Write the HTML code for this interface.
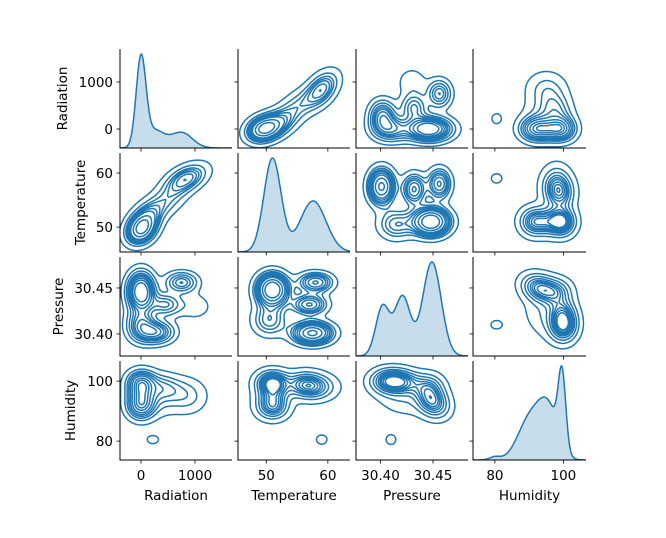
<!DOCTYPE html>
<html><head><meta charset="utf-8"><title>Pairplot KDE</title>
<style>
html,body{margin:0;padding:0;background:#fff;}
svg{display:block;font-family:"DejaVu Sans","Liberation Sans",sans-serif;}
</style></head>
<body>
<svg id="chart" width="666" height="538" viewBox="0 0 666 538" xmlns="http://www.w3.org/2000/svg"></svg>
<script>
// ---- data ----
const varNames = ["Radiation","Temperature","Pressure","Humidity"];
const varTicks = [[0,1000],[50,60],[30.40,30.45],[80,100]];
const varTickLabels = [["0","1000"],["50","60"],["30.40","30.45"],["80","100"]];
// smoothing bandwidth per variable (joint panels)
const bandwidth = [140,1.0,0.005,2.0];
// marginal mixtures: [mean, sd, weight]
const radMarg = [[0,90,0.56],[250,180,0.22],[750,200,0.22]];
const tempMarg = [[51,1.4,0.55],[57.6,2.1,0.45]];
const presMarg = [[30.402,0.0065,0.2],[30.421,0.0075,0.28],[30.449,0.0088,0.52]];
const humMarg = [[90.5,3.6,0.4],[95.8,2.8,0.32],[99.6,1.1,0.21],[80,1.5,0.012]];
// joint mixtures: [mx, my, sx, sy, rho, weight]  (x = first var, y = second var)
const radTemp = [[0,49.5,90,1.3,0.5,0.35],[100,51.5,120,1.5,0.6,0.2],[350,54,180,1.5,0.6,0.12],[850,59,180,1.3,0.7,0.25],[600,56.5,150,1.5,0.5,0.08]];
const radPres = [[0,30.446,70,0.012,0,0.35],[0,30.41,90,0.01,0,0.15],[280,30.402,150,0.006,0,0.15],[450,30.432,130,0.006,0,0.1],[750,30.456,120,0.005,0,0.1],[1000,30.43,150,0.008,0,0.04]];
const radHum = [[0,99.5,70,1.5,0,0.2],[0,92,70,2,0,0.25],[0,96,70,1.5,0,0.1],[400,98,200,2,-0.3,0.15],[850,95,180,3,0,0.12],[220,80.5,60,0.6,0,0.009],[300,94,200,3,0,0.1]];
const tempPres = [[51,30.448,1.3,0.01,0,0.35],[50.5,30.415,1.5,0.01,0,0.12],[57.5,30.401,1.8,0.006,0,0.25],[57,30.432,1.5,0.005,0,0.12],[58,30.456,1.5,0.005,0,0.12]];
const tempHum = [[51,99.5,1.3,1.5,0,0.25],[51,91.5,1.3,1.8,0,0.2],[51,95.5,1.3,1.5,0,0.1],[57.5,98,2,1.8,0,0.25],[56,99.5,1.5,1.5,0,0.1],[59,80.5,0.4,0.5,0,0.009]];
const presHum = [[30.41,100,0.01,1.5,0,0.3],[30.425,99.5,0.008,1.5,0,0.1],[30.445,98,0.008,2,0,0.15],[30.45,93,0.008,2.5,-0.3,0.25],[30.42,94,0.015,3,-0.3,0.1],[30.41,80.5,0.002,0.5,0,0.008]];

// ---- layout ----
const colL=[120,238,356,473], colR=[232,350,468,586];
const rowT=[49,153,257,361], rowB=[148,252,356,460];
const xRange=[[-389,1685],[45.4,63.6],[30.3767,30.4833],[73.6,106.6]];
const yRange=[[-404,1702],[45.4,63.7],[30.376,30.4837],[73.7,106.7]];
const margs=[radMarg,tempMarg,presMarg,humMarg];
const joints={"0-1":radTemp,"0-2":radPres,"0-3":radHum,"1-2":tempPres,"1-3":tempHum,"2-3":presHum};
const blue="#1f77b4";
const svg=document.getElementById('chart');
const NS="http://www.w3.org/2000/svg";
function mk(t,a,p){const e=document.createElementNS(NS,t);for(const k in a)e.setAttribute(k,a[k]);(p||svg).appendChild(e);return e;}
function xs(v,j){const r=xRange[j];return colL[j]+(v-r[0])/(r[1]-r[0])*(colR[j]-colL[j]);}
function ys(v,i){const r=yRange[i];return rowB[i]-(v-r[0])/(r[1]-r[0])*(rowB[i]-rowT[i]);}
function xinv(px,j){const r=xRange[j];return r[0]+(px-colL[j])/(colR[j]-colL[j])*(r[1]-r[0]);}
function yinv(py,i){const r=yRange[i];return r[0]+(rowB[i]-py)/(rowB[i]-rowT[i])*(r[1]-r[0]);}
function dens1(comps,v){let s=0;for(const c of comps){const z=(v-c[0])/c[1];s+=c[2]/c[1]*Math.exp(-0.5*z*z);}return s;}
function dens2(comps,x,y,hx,hy){let s=0;for(const c of comps){
  const small=c[5]<0.01;const f=small?0.6:1;
  const sx=Math.sqrt(c[2]*c[2]+hx*hx*f*f),sy=Math.sqrt(c[3]*c[3]+hy*hy*f*f);
  const r=c[4]*c[2]*c[3]/(sx*sy);
  const dx=(x-c[0])/sx,dy=(y-c[1])/sy;const q=(dx*dx-2*r*dx*dy+dy*dy)/(1-r*r);
  s+=c[5]/(sx*sy*Math.sqrt(1-r*r))*Math.exp(-0.5*q);}return s;}

const defs=mk('defs',{});
for(let i=0;i<4;i++){for(let j=0;j<4;j++){
  const cp=mk('clipPath',{id:'c'+i+j},defs);
  mk('rect',{x:colL[j],y:rowT[i],width:colR[j]-colL[j],height:rowB[i]-rowT[i]},cp);
}}

const table=[[],[[3,0]],[[0,1]],[[3,1]],[[1,2]],[[3,0],[1,2]],[[0,2]],[[3,2]],[[2,3]],[[0,2]],[[0,1],[2,3]],[[1,2]],[[1,3]],[[0,1]],[[3,0]],[]];

for(let i=0;i<4;i++){for(let j=0;j<4;j++){
  const g=mk('g',{'clip-path':'url(#c'+i+j+')'});
  
  
  if(i===j){
    const comps=margs[i];let pts=[],mx=0;const N=200;
    for(let k=0;k<=N;k++){const px=colL[j]+(colR[j]-colL[j])*k/N;const d=dens1(comps,xinv(px,j));pts.push([px,d]);if(d>mx)mx=d;}
    const top=rowT[i]+5,base=rowB[i];
    const P=pts.map(p=>[p[0],base-(p[1]/mx)*(base-top)]);
    let dl='M'+P.map(p=>p[0].toFixed(1)+' '+p[1].toFixed(1)).join(' L');
    const fill=mk('path',{d:dl+' L'+colR[j]+' '+base+' L'+colL[j]+' '+base+' Z',fill:blue,'fill-opacity':0.25,stroke:'none'},g);
    
    
    const ln=mk('path',{d:dl,fill:'none',stroke:blue,'stroke-width':1.5},g);
    
    
  } else {
    const a=Math.min(i,j),b=Math.max(i,j),comps=joints[a+'-'+b];
    const swap=(j!==a);
    const NX=90,NY=90,grid=[];let vals=[];
    const x0=colL[j]-10,x1=colR[j]+10,y0=rowT[i]-10,y1=rowB[i]+10;
    const ha=bandwidth[a],hb=bandwidth[b];
    for(let r=0;r<=NY;r++){const row=[];const py=y0+(y1-y0)*r/NY;const vy=yinv(py,i);
      for(let c=0;c<=NX;c++){const px=x0+(x1-x0)*c/NX;const vx=xinv(px,j);
        const d=swap?dens2(comps,vy,vx,ha,hb):dens2(comps,vx,vy,ha,hb);row.push(d);vals.push(d);}
      grid.push(row);}
    vals.sort((p,q)=>p-q);const tot=vals.reduce((s,v)=>s+v,0);
    const props=[0.05,0.155,0.261,0.367,0.472,0.578,0.683,0.789,0.894];
    const levels=[];let cum=0,pi=0;
    for(const v of vals){cum+=v/tot;while(pi<props.length&&cum>=props[pi]){levels.push(v);pi++;}}
    let d='';
    for(const L of levels){
      for(let r=0;r<NY;r++)for(let c=0;c<NX;c++){
        const v0=grid[r][c],v1=grid[r][c+1],v2=grid[r+1][c+1],v3=grid[r+1][c];
        const idx=(v0>L?1:0)|(v1>L?2:0)|(v2>L?4:0)|(v3>L?8:0);
        if(idx===0||idx===15)continue;
        const cx0=x0+(x1-x0)*c/NX,cx1=x0+(x1-x0)*(c+1)/NX,cy0=y0+(y1-y0)*r/NY,cy1=y0+(y1-y0)*(r+1)/NY;
        const ep=e=>{let t;switch(e){
          case 0:t=(L-v0)/(v1-v0);return[cx0+t*(cx1-cx0),cy0];
          case 1:t=(L-v1)/(v2-v1);return[cx1,cy0+t*(cy1-cy0)];
          case 2:t=(L-v3)/(v2-v3);return[cx0+t*(cx1-cx0),cy1];
          default:t=(L-v0)/(v3-v0);return[cx0,cy0+t*(cy1-cy0)];}};
        for(const s of table[idx]){const p=ep(s[0]),q=ep(s[1]);d+='M'+p[0].toFixed(1)+' '+p[1].toFixed(1)+'L'+q[0].toFixed(1)+' '+q[1].toFixed(1);}
      }
    }
    const path=mk('path',{d:d,fill:'none',stroke:blue,'stroke-width':1.5,'stroke-linecap':'round'},g);
    
    
  }
  const sp=mk('path',{d:'M'+colL[j]+' '+rowT[i]+' V'+rowB[i]+' H'+colR[j],fill:'none',stroke:'#000','stroke-width':1});
  
  
  varTicks[i].forEach((t,k)=>{const y=ys(t,i);
    const tk=mk('line',{x1:colL[j]-3.5,x2:colL[j],y1:y,y2:y,stroke:'#000','stroke-width':0.8});
    
    
    if(j===0){const tx=mk('text',{x:colL[j]-7,y:y+5,'text-anchor':'end','font-size':13.5,fill:'#000'});tx.textContent=varTickLabels[i][k];
      
      }
  });
  varTicks[j].forEach((t,k)=>{const x=xs(t,j);
    const tk=mk('line',{x1:x,x2:x,y1:rowB[i],y2:rowB[i]+3.5,stroke:'#000','stroke-width':0.8});
    
    
    if(i===3){const tx=mk('text',{x:x,y:rowB[i]+20,'text-anchor':'middle','font-size':13.5,fill:'#000'});tx.textContent=varTickLabels[j][k];
      
      }
  });
}}
for(let k=0;k<4;k++){
  const cx=(colL[k]+colR[k])/2;
  const xt=mk('text',{x:cx,y:500,'text-anchor':'middle','font-size':13.5,fill:'#000'});xt.textContent=varNames[k];
  
  
  const cy=(rowT[k]+rowB[k])/2;
  const lx=[67,85,63,75][k];
  const yt=mk('text',{x:lx,y:cy,'text-anchor':'middle','font-size':13.5,fill:'#000',transform:'rotate(-90 '+lx+' '+cy+')'});yt.textContent=varNames[k];
  
  
}
</script>
</body></html>
